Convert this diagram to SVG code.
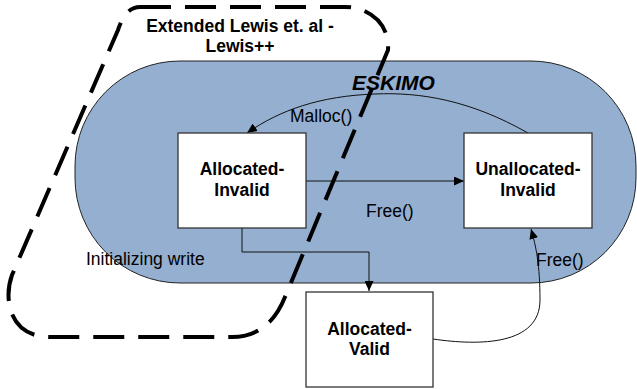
<svg xmlns="http://www.w3.org/2000/svg" width="637" height="389" viewBox="0 0 637 389">
<style>
.box{fill:#fff;stroke:#333;stroke-width:1.3}
.lbl{font-family:"Liberation Sans",Arial,sans-serif;font-size:17.5px;font-weight:bold;fill:#000;text-anchor:middle}
.edge{font-family:"Liberation Sans",Arial,sans-serif;font-size:17.5px;fill:#000}
.con{fill:none;stroke:#111;stroke-width:1}
</style>
<defs>
<marker id="ah" markerUnits="userSpaceOnUse" markerWidth="11" markerHeight="9" refX="10" refY="4.5" orient="auto" viewBox="0 0 11 9">
<path d="M0,0 L10,4.5 L0,9 z" fill="#000"/>
</marker>
</defs>
<rect width="637" height="389" fill="#fff"/>
<g id="eskimo">
<rect x="75" y="61" width="561" height="222" rx="105" ry="105" fill="#94AFCF" stroke="#222" stroke-width="1"/>
<text x="352" y="90" style="font-family:'Liberation Sans',Arial,sans-serif;font-size:21px;font-weight:bold;font-style:italic">ESKIMO</text>
</g>
<g id="connectors">
<path class="con" d="M528,133 C470,100 420,92 375,94 C320,96 280,110 247,133" marker-end="url(#ah)"/>
<path class="con" d="M306,181 L464,181" marker-end="url(#ah)"/>
<path class="con" d="M242,228 L242,252 L369,252 L369,291" marker-end="url(#ah)"/>
<path class="con" d="M433,339 C480,346 540,345 540,300 C540,265 536,246 531,229" marker-end="url(#ah)"/>
<text class="edge" x="290" y="122">Malloc()</text>
<text class="edge" x="366" y="217">Free()</text>
<text class="edge" x="86" y="265">Initializing write</text>
<text class="edge" x="536" y="266">Free()</text>
</g>
<g id="allocated-invalid">
<rect class="box" x="178" y="133" width="128" height="95"/>
<text class="lbl" x="242" y="175">Allocated-</text>
<text class="lbl" x="242" y="196">Invalid</text>
</g>
<g id="unallocated-invalid">
<rect class="box" x="464" y="133" width="128" height="95"/>
<text class="lbl" x="528" y="175">Unallocated-</text>
<text class="lbl" x="528" y="196">Invalid</text>
</g>
<g id="allocated-valid">
<rect class="box" x="306" y="292" width="127" height="95"/>
<text class="lbl" x="369.5" y="335">Allocated-</text>
<text class="lbl" x="369.5" y="355">Valid</text>
</g>
<g id="lewis">
<path d="M140,7 L345,7 C370,7 390,25 388,50 L285,297 C275,322 258,337 232,337 L50,337 C10,337 3,300 12,275 L118,30 C122,18 128,7 140,7 Z" fill="none" stroke="#000" stroke-width="4" stroke-dasharray="31 14"/>
<text class="lbl" x="240" y="32">Extended Lewis et. al -</text>
<text class="lbl" x="240" y="52">Lewis++</text>
</g>
</svg>
